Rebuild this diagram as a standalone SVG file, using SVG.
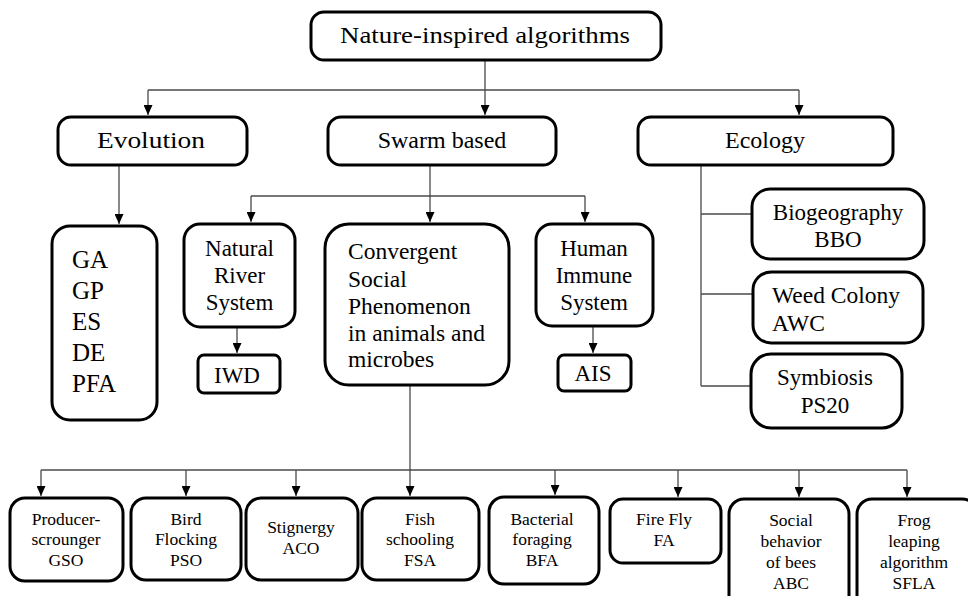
<svg xmlns="http://www.w3.org/2000/svg" width="968" height="596" viewBox="0 0 968 596">
  <defs>
    <marker id="arrow" viewBox="0 0 10 9" refX="10" refY="4.5" markerWidth="10" markerHeight="9" markerUnits="userSpaceOnUse" orient="auto">
      <path d="M0,0 L10,4.5 L0,9 z" fill="#000"/>
    </marker>
  </defs>

  <!-- connectors: thin grey lines, arrowheads from the shared marker -->
  <g id="connectors" fill="none" stroke="#4a4a4a" stroke-width="1.3">
    <path d="M485,60 V115" marker-end="url(#arrow)"/>
    <path d="M148,90 H799"/>
    <path d="M148,90 V115" marker-end="url(#arrow)"/>
    <path d="M799,90 V115" marker-end="url(#arrow)"/>
    <path d="M119,165 V224" marker-end="url(#arrow)"/>
    <path d="M430,165 V222" marker-end="url(#arrow)"/>
    <path d="M251,196 H585"/>
    <path d="M251,196 V222" marker-end="url(#arrow)"/>
    <path d="M585,196 V222" marker-end="url(#arrow)"/>
    <path d="M237,327 V353" marker-end="url(#arrow)"/>
    <path d="M593,326 V353" marker-end="url(#arrow)"/>
    <path d="M701,165 V386"/>
    <path d="M701,214 H752"/>
    <path d="M701,294 H753"/>
    <path d="M701,386 H751"/>
    <path d="M410,385 V496" marker-end="url(#arrow)"/>
    <path d="M41,470 H907"/>
    <path d="M41,470 V496" marker-end="url(#arrow)"/>
    <path d="M186,470 V496" marker-end="url(#arrow)"/>
    <path d="M296,470 V496" marker-end="url(#arrow)"/>
    <path d="M555,470 V495" marker-end="url(#arrow)"/>
    <path d="M678,470 V497" marker-end="url(#arrow)"/>
    <path d="M799,470 V497" marker-end="url(#arrow)"/>
    <path d="M907,470 V497" marker-end="url(#arrow)"/>
  </g>

  <g id="root">
    <rect x="311" y="12" width="350" height="48" rx="13" fill="#fff" stroke="#000" stroke-width="3"/>
    <text font-family="serif" font-size="24" text-anchor="middle" x="485" y="43" textLength="290" lengthAdjust="spacingAndGlyphs">Nature-inspired algorithms</text>
  </g>

  <g id="evolution">
    <rect x="58" y="117" width="189" height="48" rx="13" fill="#fff" stroke="#000" stroke-width="3"/>
    <text font-family="Times New Roman" font-size="24" text-anchor="middle" x="151" y="148" textLength="108" lengthAdjust="spacingAndGlyphs">Evolution</text>
  </g>
  <g id="swarm">
    <rect x="328" y="117" width="228" height="48" rx="13" fill="#fff" stroke="#000" stroke-width="3"/>
    <text style="font-family: 'Liberation Serif'; font-size: 24px" text-anchor="middle" x="442" y="148">Swarm based</text>
  </g>
  <g id="ecology">
    <rect x="638" y="117" width="255" height="48" rx="13" fill="#fff" stroke="#000" stroke-width="3"/>
    <text font-family="Liberation Serif" font-size="24" text-anchor="middle" x="765" y="148">Ecology</text>
  </g>

  <g id="evolution-list">
    <rect x="52" y="226" width="105" height="194" rx="18" fill="#fff" stroke="#000" stroke-width="3"/>
    <text font-family="serif" font-size="25" x="72" y="268">GA</text>
    <text font-family="serif" font-size="25" x="72" y="299">GP</text>
    <text font-family="serif" font-size="25" x="72" y="330">ES</text>
    <text font-family="serif" font-size="25" x="72" y="361">DE</text>
    <text font-family="serif" font-size="25" x="72" y="392">PFA</text>
  </g>

  <g id="river">
    <rect x="184" y="224" width="111" height="103" rx="16" fill="#fff" stroke="#000" stroke-width="3"/>
    <text font-family="serif" font-size="23" text-anchor="middle" x="239.5" y="256">Natural</text>
    <text font-family="serif" font-size="23" text-anchor="middle" x="239.5" y="283">River</text>
    <text font-family="serif" font-size="23" text-anchor="middle" x="239.5" y="310">System</text>
  </g>
  <g id="iwd">
    <rect x="198" y="355" width="82" height="38" rx="6" fill="#fff" stroke="#000" stroke-width="3"/>
    <text font-family="serif" font-size="23" text-anchor="middle" x="237" y="383">IWD</text>
  </g>

  <g id="convergent">
    <rect x="325" y="224" width="184" height="161" rx="24" fill="#fff" stroke="#000" stroke-width="3"/>
    <text font-family="serif" font-size="23.5" x="348" y="259">Convergent</text>
    <text font-family="serif" font-size="23.5" x="348" y="287">Social</text>
    <text font-family="serif" font-size="23.5" x="348" y="314">Phenomenon</text>
    <text font-family="serif" font-size="23.5" x="348" y="341">in animals and</text>
    <text font-family="serif" font-size="23.5" x="348" y="367">microbes</text>
  </g>

  <g id="immune">
    <rect x="536" y="224" width="117" height="102" rx="16" fill="#fff" stroke="#000" stroke-width="3"/>
    <text font-family="serif" font-size="23" text-anchor="middle" x="594" y="256">Human</text>
    <text font-family="serif" font-size="23" text-anchor="middle" x="594" y="283">Immune</text>
    <text font-family="serif" font-size="23" text-anchor="middle" x="594" y="310">System</text>
  </g>
  <g id="ais">
    <rect x="558" y="355" width="73" height="36" rx="6" fill="#fff" stroke="#000" stroke-width="3"/>
    <text font-family="serif" font-size="23" text-anchor="middle" x="593" y="381">AIS</text>
  </g>

  <g id="biogeography">
    <rect x="752" y="189" width="172" height="70" rx="18" fill="#fff" stroke="#000" stroke-width="3"/>
    <text font-family="serif" font-size="23" text-anchor="middle" x="838" y="220">Biogeography</text>
    <text font-family="serif" font-size="23" text-anchor="middle" x="838" y="247">BBO</text>
  </g>
  <g id="weed">
    <rect x="753" y="272" width="170" height="71" rx="18" fill="#fff" stroke="#000" stroke-width="3"/>
    <text font-family="serif" font-size="23.5" x="772" y="303">Weed Colony</text>
    <text font-family="serif" font-size="23.5" x="772" y="331">AWC</text>
  </g>
  <g id="symbiosis">
    <rect x="751" y="354" width="151" height="74" rx="20" fill="#fff" stroke="#000" stroke-width="3"/>
    <text font-family="serif" font-size="23" text-anchor="middle" x="825" y="385">Symbiosis</text>
    <text font-family="serif" font-size="23" text-anchor="middle" x="825" y="413">PS20</text>
  </g>

  <!-- swarm algorithms -->
  <g id="gso">
    <rect x="10" y="498" width="113" height="83" rx="15" fill="#fff" stroke="#000" stroke-width="3"/>
    <text font-family="serif" font-size="17.5" text-anchor="middle" x="66" y="525">Producer-</text>
    <text font-family="serif" font-size="17.5" text-anchor="middle" x="66" y="545">scrounger</text>
    <text font-family="serif" font-size="17.5" text-anchor="middle" x="66" y="566">GSO</text>
  </g>
  <g id="pso">
    <rect x="131" y="498" width="110" height="82" rx="15" fill="#fff" stroke="#000" stroke-width="3"/>
    <text font-family="serif" font-size="17.5" text-anchor="middle" x="186" y="525">Bird</text>
    <text font-family="serif" font-size="17.5" text-anchor="middle" x="186" y="545">Flocking</text>
    <text font-family="serif" font-size="17.5" text-anchor="middle" x="186" y="566">PSO</text>
  </g>
  <g id="aco">
    <rect x="246" y="498" width="112" height="82" rx="15" fill="#fff" stroke="#000" stroke-width="3"/>
    <text font-family="serif" font-size="17.5" text-anchor="middle" x="301" y="533">Stignergy</text>
    <text font-family="serif" font-size="17.5" text-anchor="middle" x="301" y="554">ACO</text>
  </g>
  <g id="fsa">
    <rect x="362" y="498" width="117" height="82" rx="15" fill="#fff" stroke="#000" stroke-width="3"/>
    <text font-family="serif" font-size="17.5" text-anchor="middle" x="420" y="525">Fish</text>
    <text font-family="serif" font-size="17.5" text-anchor="middle" x="420" y="545">schooling</text>
    <text font-family="serif" font-size="17.5" text-anchor="middle" x="420" y="566">FSA</text>
  </g>
  <g id="bfa">
    <rect x="489" y="497" width="110" height="87" rx="15" fill="#fff" stroke="#000" stroke-width="3"/>
    <text font-family="serif" font-size="17.5" text-anchor="middle" x="542" y="525">Bacterial</text>
    <text font-family="serif" font-size="17.5" text-anchor="middle" x="542" y="545">foraging</text>
    <text font-family="serif" font-size="17.5" text-anchor="middle" x="542" y="566">BFA</text>
  </g>
  <g id="fa">
    <rect x="610" y="499" width="111" height="64" rx="13" fill="#fff" stroke="#000" stroke-width="3"/>
    <text font-family="serif" font-size="17.5" text-anchor="middle" x="664" y="525">Fire Fly</text>
    <text font-family="serif" font-size="17.5" text-anchor="middle" x="664" y="546">FA</text>
  </g>
  <g id="abc">
    <rect x="729" y="499" width="120" height="112" rx="15" fill="#fff" stroke="#000" stroke-width="3"/>
    <text font-family="serif" font-size="17.5" text-anchor="middle" x="791" y="526">Social</text>
    <text font-family="serif" font-size="17.5" text-anchor="middle" x="791" y="547">behavior</text>
    <text font-family="serif" font-size="17.5" text-anchor="middle" x="791" y="568">of bees</text>
    <text font-family="serif" font-size="17.5" text-anchor="middle" x="791" y="589">ABC</text>
  </g>
  <g id="sfla">
    <rect x="857" y="499" width="120" height="112" rx="15" fill="#fff" stroke="#000" stroke-width="3"/>
    <text font-family="serif" font-size="17.5" text-anchor="middle" x="914" y="526">Frog</text>
    <text font-family="serif" font-size="17.5" text-anchor="middle" x="914" y="547">leaping</text>
    <text font-family="serif" font-size="17.5" text-anchor="middle" x="914" y="568">algorithm</text>
    <text font-family="serif" font-size="17.5" text-anchor="middle" x="914" y="589">SFLA</text>
  </g>
</svg>
